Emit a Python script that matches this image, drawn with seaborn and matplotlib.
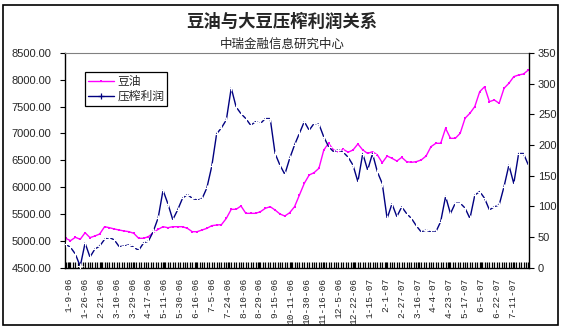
import matplotlib
matplotlib.use("Agg")
import matplotlib.pyplot as plt
import numpy as np
import pandas as pd
import seaborn as sns
from matplotlib.ticker import MultipleLocator, FormatStrFormatter
from matplotlib.lines import Line2D
from matplotlib.patches import Rectangle

# ---- data -------------------------------------------------------------
# trading-day index of each sample (one sample every 4 trading days)
trade_day = list(range(0, 381, 4))

# 豆油 price (left axis)
soy_oil = [
    5045, 5000, 5063, 5026, 5149, 5057, 5087, 5125, 5261, 5242,
    5218, 5199, 5181, 5168, 5137, 5045, 5045, 5075, 5149, 5212,
    5261, 5242, 5261, 5261, 5261, 5230, 5168, 5168, 5199, 5230,
    5280, 5292, 5300, 5417, 5585, 5585, 5647, 5510, 5510, 5510,
    5541, 5604, 5634, 5572, 5498, 5460, 5522, 5634, 5852, 6070,
    6225, 6268, 6350, 6691, 6816, 6691, 6660, 6703, 6650, 6691,
    6804, 6691, 6627, 6660, 6598, 6454, 6579, 6536, 6486, 6554,
    6474, 6461, 6474, 6505, 6579, 6753, 6816, 6816, 7096, 6909,
    6909, 7003, 7283, 7377, 7501, 7778, 7871, 7593, 7624, 7562,
    7842, 7935, 8059, 8090, 8109, 8183,
]

# 压榨利润 crushing margin (right axis)
crush_margin = [
    38, 33, 22, 2, 40, 17, 30, 35, 46, 49,
    45, 34, 35, 37, 33, 28, 40, 43, 59, 81,
    126, 104, 78, 94, 113, 119, 113, 110, 112, 130,
    165, 218, 228, 241, 293, 262, 251, 243, 232, 238,
    235, 243, 243, 186, 167, 152, 178, 200, 219, 238,
    224, 235, 234, 213, 197, 189, 192, 188, 180, 167,
    140, 186, 159, 186, 156, 137, 80, 104, 83, 99,
    88, 80, 68, 58, 61, 58, 58, 75, 116, 88,
    105, 105, 97, 80, 118, 124, 113, 94, 99, 102,
    132, 167, 137, 186, 186, 167,
]

# category labels, one every 13 trading days starting at day 3
tick_dates = [
    "1-9-06", "1-26-06", "2-21-06", "3-10-06", "3-29-06", "4-17-06",
    "5-11-06", "5-30-06", "6-16-06", "7-5-06", "7-24-06", "8-10-06",
    "8-29-06", "9-15-06", "10-11-06", "10-30-06", "11-16-06", "12-5-06",
    "12-22-06", "1-15-07", "2-1-07", "2-27-07", "3-16-07", "4-4-07",
    "4-23-07", "5-17-07", "6-5-07", "6-22-07", "7-11-07",
]
n_days = 381
first_label_day = 3
label_step = 13

df = pd.DataFrame({"day": trade_day, "豆油": soy_oil, "压榨利润": crush_margin})

# ---- figure -------------------------------------------------------------
sns.set_style("white")
plt.rcParams["font.family"] = ["Liberation Sans", "Noto Sans CJK SC"]

W, H = 564, 330
fig = plt.figure(figsize=(W / 100, H / 100), dpi=100)
fig.patch.set_facecolor("white")

ax = fig.add_axes([65 / W, 1 - 267.5 / H, 464 / W, 214.5 / H])
ax2 = ax.twinx()

oil_color = "#FF00FF"
margin_color = "#000080"

sns.lineplot(data=df, x="day", y="豆油", ax=ax, color=oil_color, lw=1.0,
             marker="s", markersize=1.6, markeredgewidth=0, legend=False)
sns.lineplot(data=df, x="day", y="压榨利润", ax=ax2, color=margin_color, lw=1.0,
             marker="+", markersize=4, markeredgewidth=0.8, legend=False)

# x axis: categories
ax.set_xlim(-0.5, n_days - 0.5)
label_pos = [first_label_day + label_step * k for k in range(len(tick_dates))]
ax.set_xticks(label_pos)
ax.set_xticklabels(tick_dates, rotation=90, fontsize=6.8, family=["Liberation Mono"])
ax.xaxis.set_minor_locator(MultipleLocator(2))
ax.tick_params(axis="x", which="both", direction="in", length=4, width=0.9,
               color="black", pad=7.5, bottom=True)
ax.set_xlabel("")

# left axis
ax.set_ylim(4500, 8500)
ax.yaxis.set_major_locator(MultipleLocator(500))
ax.yaxis.set_major_formatter(FormatStrFormatter("%.2f"))
ax.tick_params(axis="y", direction="out", length=3.5, width=0.8, color="black",
               labelsize=8, pad=6.5, left=True)
ax.set_ylabel("")

# right axis
ax2.set_ylim(0, 350)
ax2.yaxis.set_major_locator(MultipleLocator(50))
ax2.tick_params(axis="y", direction="out", length=3.5, width=0.8, color="black",
                labelsize=8, pad=3, right=True)
ax2.set_ylabel("")

# frame
for sp in ("left", "bottom"):
    ax.spines[sp].set_color("black")
    ax.spines[sp].set_linewidth(1.0)
ax.spines["right"].set_visible(False)
ax.spines["top"].set_color("#808080")
ax.spines["top"].set_linestyle((0, (1, 1)))
ax.spines["top"].set_linewidth(0.8)
for sp in ("left", "bottom", "top"):
    ax2.spines[sp].set_visible(False)
ax2.spines["right"].set_color("black")
ax2.spines["right"].set_linewidth(1.0)

# titles
fig.text(0.5, 1 - 22 / H, "豆油与大豆压榨利润关系", ha="center", va="center",
         fontsize=12.5, fontweight="bold", family=["Noto Sans CJK SC"])
fig.text(0.5, 1 - 44 / H, "中瑞金融信息研究中心", ha="center", va="center",
         fontsize=9, family=["Noto Sans CJK SC"])

# legend
handles = [
    Line2D([], [], color=oil_color, lw=1.0, marker="s", markersize=2, markeredgewidth=0),
    Line2D([], [], color=margin_color, lw=1.0, marker="+", markersize=5, markeredgewidth=0.9),
]
leg = fig.legend(handles, ["豆油", "压榨利润"], loc="upper left",
                 bbox_to_anchor=(85 / W, 1 - 72 / H), frameon=True, fancybox=False,
                 edgecolor="black", framealpha=1, borderpad=0.25, labelspacing=0.15,
                 handlelength=2.2, handletextpad=0.3, borderaxespad=0,
                 prop={"family": ["Noto Sans CJK SC"], "size": 8.5})
leg.get_frame().set_linewidth(0.9)

# outer chart border
fig.patches.append(Rectangle((3 / W, 5 / H), 555 / W, 320 / H, transform=fig.transFigure,
                             fill=False, edgecolor="black", linewidth=1.2))

fig.savefig("out.png", dpi=100, facecolor="white")
